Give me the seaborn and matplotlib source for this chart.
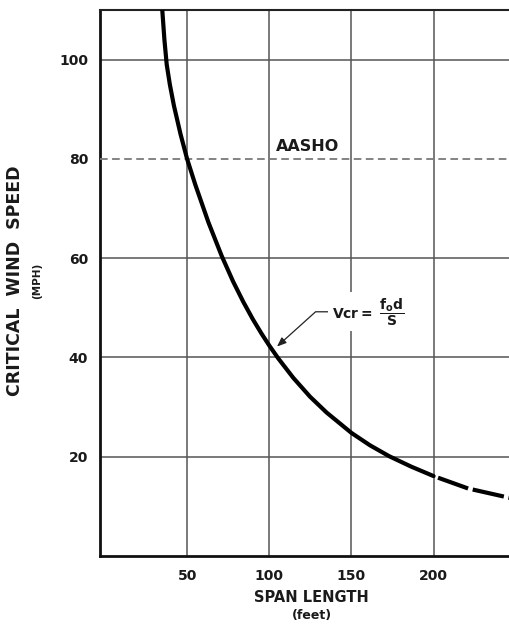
import matplotlib
matplotlib.use("Agg")
import matplotlib.pyplot as plt
import seaborn as sns
import pandas as pd

# ---- data ----
span = [34.9, 36.2, 37.6, 39.5, 42, 46, 50, 55, 63, 71, 78, 84.2, 90, 95.3, 100,
        105.5, 114.6, 124.8, 134.9, 150, 161.3, 173, 186.4, 200, 221, 246.5]
speed = [110, 104, 99, 95, 90.7, 85, 80, 74.8, 67.2, 60.5, 55.3, 51.2, 47.7, 44.8, 42.4,
         39.8, 35.9, 32.1, 28.9, 24.8, 22.3, 20.1, 18.0, 16.1, 13.6, 11.7]
solid_end = 200
x_ticks = [50, 100, 150, 200]
y_ticks = [20, 40, 60, 80, 100]
aasho_speed = 80

sns.set_theme(style="white")
plt.rcParams["font.family"] = ["DejaVu Sans"]
plt.rcParams["mathtext.fontset"] = "dejavusans"
plt.rcParams["lines.scale_dashes"] = False

fig = plt.figure(figsize=(5.1, 6.25), dpi=100)
ax = fig.add_axes([100 / 510, 69 / 625, 410 / 510, 546 / 625])

df = pd.DataFrame({"span": span, "speed": speed})
solid = df[df["span"] <= solid_end]
dashed = df[df["span"] >= solid_end]

sns.lineplot(data=solid, x="span", y="speed", ax=ax, color="black",
             linewidth=3, sort=False, zorder=4)
ax.lines[-1].set_solid_joinstyle("round")
sns.lineplot(data=dashed, x="span", y="speed", ax=ax, color="black",
             linewidth=3, sort=False, zorder=4)
ax.lines[-1].set_linestyle((23, (23, 3.4)))
ax.lines[-1].set_dash_capstyle("butt")

ax.axhline(aasho_speed, color="#7a7a7a", linewidth=1.3, dashes=(5.5, 3.2), zorder=3)
ax.text(104, aasho_speed + 0.9, "AASHO", ha="left", va="bottom", fontsize=11.5,
        fontweight="bold", color="#1a1a1a", zorder=5)

ax.set_xlim(-3, 246.5)
ax.set_ylim(0, 110)
ax.set_xticks(x_ticks)
ax.set_yticks(y_ticks)
ax.set_xticklabels([str(v) for v in x_ticks], fontsize=10, fontweight="bold", color="#1a1a1a")
ax.set_yticklabels([str(v) for v in y_ticks], fontsize=10, fontweight="bold", color="#1a1a1a")
ax.tick_params(axis="both", length=0)
ax.tick_params(axis="x", pad=9)
ax.tick_params(axis="y", pad=8.5)
ax.grid(True, color="#555555", linewidth=1.1)
ax.set_axisbelow(True)
# the AASHO dashed line replaces the solid grid line at 80
for tick, val in zip(ax.yaxis.get_major_ticks(), y_ticks):
    if val == aasho_speed:
        tick.gridline.set_visible(False)
ax.set_xlabel("")
ax.set_ylabel("")

for s in ["left", "bottom"]:
    ax.spines[s].set_color("#111111")
    ax.spines[s].set_linewidth(2.0)
ax.spines["top"].set_color("#222222")
ax.spines["top"].set_linewidth(1.5)
ax.spines["right"].set_visible(False)

ax.annotate(r"$\mathbf{Vcr}\mathbf{=}\ \dfrac{\mathbf{f_{o}d}}{\mathbf{S}}$",
            xy=(104.7, 42.2), xytext=(138, 49.2), fontsize=10, color="#1a1a1a",
            ha="left", va="center", zorder=6,
            bbox=dict(boxstyle="square,pad=0.25", fc="white", ec="none"),
            arrowprops=dict(arrowstyle="-|>,head_length=0.55,head_width=0.22",
                            color="#222222", lw=0.9, shrinkA=0, shrinkB=0,
                            relpos=(0, 0.5),
                            connectionstyle="angle,angleA=0,angleB=42,rad=0"))

fig.text(15 / 510, 1 - 281 / 625, "CRITICAL  WIND  SPEED", rotation=90,
         ha="center", va="center", fontsize=12.5, fontweight="bold", color="#1a1a1a")
fig.text(37 / 510, 1 - 281 / 625, "(MPH)", rotation=90,
         ha="center", va="center", fontsize=7.5, fontweight="bold", color="#1a1a1a")
fig.text(311 / 510, 1 - 597 / 625, "SPAN LENGTH", ha="center", va="center",
         fontsize=10.5, fontweight="bold", color="#1a1a1a")
fig.text(312 / 510, 1 - 615 / 625, "(feet)", ha="center", va="center",
         fontsize=9, fontweight="bold", color="#1a1a1a")

fig.savefig("out.png", dpi=100)
